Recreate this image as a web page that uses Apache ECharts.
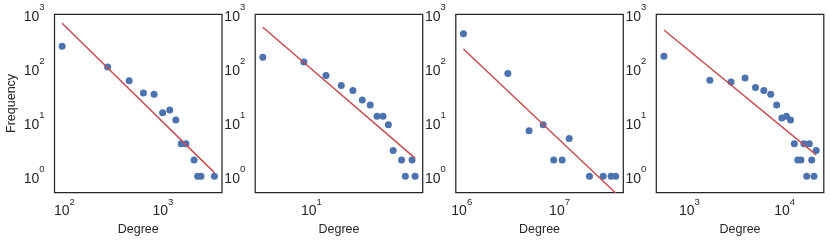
<!DOCTYPE html>
<html>
<head>
<meta charset="utf-8">
<script src="https://cdn.jsdelivr.net/npm/echarts@6/dist/echarts.min.js"></script>
<style>
  html, body { margin: 0; padding: 0; background: #ffffff; }
  #chart { width: 830px; height: 243px; }
</style>
</head>
<body>
<div id="chart"></div>
<script>
// ---- Data (log-log degree distributions) ----
const deg1  = [95, 275, 455, 635, 815, 995, 1175, 1355, 1535, 1715, 2075, 2255, 2435, 3335];
const freq1 = [256, 106, 59, 35, 33, 15, 17, 11, 4, 4, 2, 1, 1, 1];
const fitX1 = [95, 3335];
const fitY1 = [682, 1.17];

const deg2  = [3.75, 8.6, 13.45, 18.3, 23.15, 28.0, 32.85, 37.7, 42.55, 47.4, 52.25, 61.95, 66.8, 76.5, 81.35];
const freq2 = [160, 131, 74, 48, 39, 26, 21, 13, 13, 9, 3, 2, 1, 2, 1];
const fitX2 = [3.75, 81.35];
const fitY2 = [575, 2.17];

const deg3  = [1.04e6, 2.96e6, 4.88e6, 6.8e6, 8.72e6, 1.064e7, 1.256e7, 2.024e7, 2.792e7, 3.368e7, 3.752e7];
const freq3 = [438, 80, 7, 9, 2, 2, 5, 1, 1, 1, 1];
const fitX3 = [1.04e6, 3.752e7];
const fitY3 = [228, 0.49];

const deg4  = [540, 1640, 2740, 3840, 4940, 6040, 7140, 8240, 9340, 10440, 11540, 12640, 13740, 14840, 15940, 17040, 18140, 19240, 20340, 21440];
const freq4 = [167, 60, 56, 66, 44, 39, 33, 21, 12, 13, 11, 4, 2, 2, 4, 1, 4, 2, 1, 3];
const fitX4 = [540, 21440];
const fitY4 = [513, 2.5];

const yLimits = [0.5, 1000];
const xTitle = 'Degree';
const yTitle = 'Frequency';

// ---- Build chart ----
const panels = [
  { deg: deg1, freq: freq1, fx: fitX1, fy: fitY1 },
  { deg: deg2, freq: freq2, fx: fitX2, fy: fitY2 },
  { deg: deg3, freq: freq3, fx: fitX3, fy: fitY3 },
  { deg: deg4, freq: freq4, fx: fitX4, fy: fitY4 }
];
const FONT = 'Liberation Sans, Arial, sans-serif';
const TXT = '#262626';
const lefts = [54.5, 255.2, 455.8, 656.3];

function xlim(d) {
  const lo = Math.log10(Math.min.apply(null, d));
  const hi = Math.log10(Math.max.apply(null, d));
  const m = (hi - lo) * 0.05;
  return [Math.pow(10, lo - m), Math.pow(10, hi + m)];
}
function powLabel(v) {
  const e = Math.log10(v);
  const r = Math.round(e);
  if (Math.abs(e - r) > 1e-6) return '';
  return '{b|10}{s|' + r + '}';
}
const rich = {
  b: { fontSize: 14, fontFamily: FONT, color: TXT, lineHeight: 28 },
  s: { fontSize: 9.5, fontFamily: FONT, color: TXT, lineHeight: 10, verticalAlign: 'top' }
};

const grid = [], xAxis = [], yAxis = [], series = [];
panels.forEach((p, i) => {
  grid.push({
    left: lefts[i], top: 14.3, width: 167.5, height: 178.3,
    show: true, borderColor: '#262626', borderWidth: 1.25, backgroundColor: 'transparent'
  });
  const xl = xlim(p.deg);
  xAxis.push({
    type: 'log', logBase: 10, gridIndex: i, min: xl[0], max: xl[1],
    axisLine: { show: false }, axisTick: { show: false }, splitLine: { show: false },
    minorTick: { show: false },
    axisLabel: { formatter: powLabel, rich: rich, margin: 5, showMinLabel: true, showMaxLabel: true },
    name: xTitle, nameLocation: 'middle', nameGap: 28,
    nameTextStyle: { fontSize: 12.5, fontFamily: FONT, color: TXT }
  });
  yAxis.push({
    type: 'log', logBase: 10, gridIndex: i, min: yLimits[0], max: yLimits[1],
    axisLine: { show: false }, axisTick: { show: false }, splitLine: { show: false },
    axisLabel: { formatter: powLabel, rich: rich, margin: 10, padding: [5, 0, 0, 0] },
    name: i === 0 ? yTitle : '', nameLocation: 'middle', nameGap: 36,
    nameTextStyle: { fontSize: 12.5, fontFamily: FONT, color: TXT }
  });
  series.push({
    type: 'scatter', xAxisIndex: i, yAxisIndex: i,
    data: p.deg.map((d, k) => [d, p.freq[k]]),
    symbol: 'circle', symbolSize: 7,
    itemStyle: { color: '#4C72B0', opacity: 1 },
    z: 2
  });
  series.push({
    type: 'line', xAxisIndex: i, yAxisIndex: i,
    data: p.fx.map((x, k) => [x, p.fy[k]]),
    showSymbol: false, symbol: 'none',
    lineStyle: { color: '#C44E52', width: 1.5 },
    clip: true, z: 3
  });
});

const chart = echarts.init(document.getElementById('chart'), null, { renderer: 'canvas' });
chart.setOption({
  animation: false,
  backgroundColor: '#ffffff',
  grid: grid, xAxis: xAxis, yAxis: yAxis, series: series
});
</script>
</body>
</html>
